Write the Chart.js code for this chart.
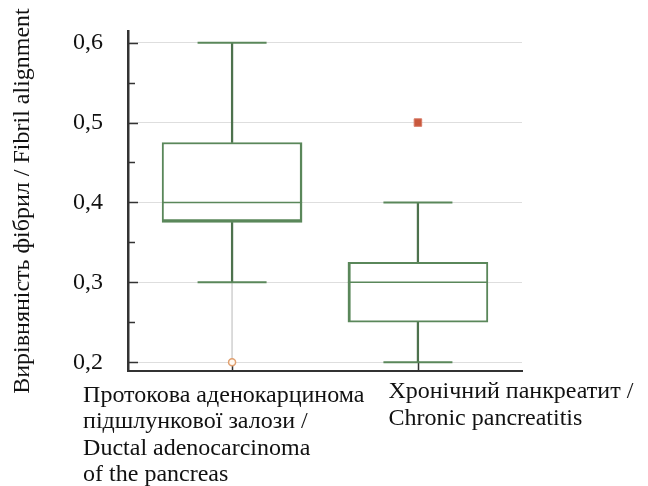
<!DOCTYPE html>
<html>
<head>
<meta charset="utf-8">
<script src="https://cdn.jsdelivr.net/npm/chart.js@4.4.1/dist/chart.umd.min.js"></script>
<style>
  body { margin: 0; background: #fff; }
  #wrap { width: 648px; height: 486px; }
</style>
</head>
<body>
<div id="wrap"><canvas id="chart" width="648" height="486"></canvas></div>
<script>
// Дані боксплоту
const categories = [
    ['Протокова аденокарцинома', 'підшлункової залози /', 'Ductal adenocarcinoma', 'of the pancreas'],
    ['Хронічний панкреатит /', 'Chronic pancreatitis']
];
const whiskerLow = [0.3, 0.2];
const q1 = [0.375, 0.25];
const median = [0.4, 0.3];
const q3 = [0.475, 0.325];
const whiskerHigh = [0.6, 0.4];
const outlierValues = [0.2, null];   // кружок
const extremeValues = [null, 0.5];   // квадрат
const yTickValues = [0.2, 0.3, 0.4, 0.5, 0.6];
const yMinorValues = [0.25, 0.35, 0.45, 0.55];

const green = '#5a875a';
const darkGreen = '#4d724d';
const serif = "'Liberation Serif', 'Times New Roman', serif";

const pos = i => i + 1;

// Внутрішні засічки на осях
const insideTicks = {
    id: 'insideTicks',
    beforeDatasetsDraw(chart) {
        const {ctx, chartArea, scales: {x, y}} = chart;
        ctx.save();
        ctx.strokeStyle = '#333';
        ctx.lineWidth = 1.5;
        ctx.beginPath();
        yTickValues.forEach(v => {
            const py = Math.round(y.getPixelForValue(v)) + 0.5;
            ctx.moveTo(chartArea.left, py);
            ctx.lineTo(chartArea.left + 10, py);
        });
        yMinorValues.forEach(v => {
            const py = Math.round(y.getPixelForValue(v)) + 0.5;
            ctx.moveTo(chartArea.left, py);
            ctx.lineTo(chartArea.left + 7, py);
        });
        categories.forEach((c, i) => {
            const px = Math.round(x.getPixelForValue(pos(i))) + 0.5;
            ctx.moveTo(px, chartArea.bottom);
            ctx.lineTo(px, chartArea.bottom - 10);
        });
        ctx.stroke();
        ctx.restore();
    }
};

// Підписи категорій (вирівняні по лівому краю)
const categoryLabels = {
    id: 'categoryLabels',
    afterDraw(chart, args, opts) {
        const {ctx, chartArea, scales: {x}} = chart;
        ctx.save();
        ctx.font = opts.size + 'px ' + serif;
        ctx.fillStyle = '#111';
        ctx.textAlign = 'left';
        ctx.textBaseline = 'alphabetic';
        categories.forEach((lines, i) => {
            const left = x.getPixelForValue(pos(i)) + opts.shift[i];
            lines.forEach((line, j) => {
                ctx.fillText(line, left, chartArea.bottom + opts.top[i] + j * opts.lineHeight);
            });
        });
        ctx.restore();
    }
};

new Chart(document.getElementById('chart'), {
    type: 'bar',
    data: {
        datasets: [
            {
                type: 'scatter',
                order: 0,
                data: outlierValues.map((v, i) => ({x: pos(i), y: v})).filter(p => p.y !== null),
                pointStyle: 'circle',
                pointRadius: 3.5,
                pointBackgroundColor: '#fff8f0',
                pointBorderColor: '#e0a070',
                pointBorderWidth: 1.5
            },
            {
                type: 'scatter',
                order: 0,
                data: extremeValues.map((v, i) => ({x: pos(i), y: v})).filter(p => p.y !== null),
                pointStyle: 'rect',
                pointRadius: 5.3,
                pointBackgroundColor: '#c8583c',
                pointBorderColor: '#d87a66',
                pointBorderWidth: 1
            },
            {
                type: 'scatter',
                order: 1,
                data: median.map((v, i) => ({x: pos(i), y: v})),
                pointStyle: 'line',
                pointRadius: 70,
                pointBorderColor: green,
                pointBorderWidth: 1.5
            },
            {
                type: 'scatter',
                order: 1,
                data: whiskerHigh.map((v, i) => ({x: pos(i), y: v}))
                    .concat(whiskerLow.map((v, i) => ({x: pos(i), y: v}))),
                pointStyle: 'line',
                pointRadius: 34.5,
                pointBorderColor: green,
                pointBorderWidth: 2
            },
            {
                order: 2,
                grouped: false,
                barThickness: 140,
                data: q1.map((v, i) => ({x: pos(i), y: [v, q3[i]]})),
                backgroundColor: 'rgba(255,255,255,1)',
                borderColor: green,
                borderSkipped: false,
                borderWidth: [
                    {top: 2, right: 2.5, bottom: 3.5, left: 2},
                    {top: 2, right: 2, bottom: 2, left: 3}
                ]
            },
            {
                order: 3,
                grouped: false,
                barThickness: 1.6,
                data: q3.map((v, i) => ({x: pos(i), y: [v, whiskerHigh[i]]}))
                    .concat(q1.map((v, i) => ({x: pos(i), y: [whiskerLow[i], v]}))),
                backgroundColor: darkGreen,
                borderWidth: 0
            },
            {
                type: 'line',
                order: 4,
                data: [{x: pos(0), y: whiskerLow[0]}, {x: pos(0), y: outlierValues[0]}],
                borderColor: '#d6d6d6',
                borderWidth: 1,
                pointRadius: 0
            }
        ]
    },
    options: {
        responsive: false,
        animation: false,
        layout: {autoPadding: false, padding: {top: 31, right: 126, left: 0, bottom: 0}},
        plugins: {
            legend: {display: false},
            tooltip: {enabled: false},
            categoryLabels: {
                size: 24,
                lineHeight: 26.5,
                shift: [-149, -29.5],
                top: [30.7, 27.3]
            }
        },
        scales: {
            x: {
                type: 'linear',
                offset: false,
                min: 0.44,
                max: 2.56,
                grid: {display: false},
                ticks: {display: false},
                border: {color: '#333', width: 2},
                afterFit(scale) { scale.height = 115; }
            },
            y: {
                min: 0.189,
                max: 0.6146,
                afterBuildTicks(scale) {
                    scale.ticks = yTickValues.map(v => ({value: v}));
                },
                afterFit(scale) {
                    scale.width = 128;
                    scale.paddingTop = 0;
                    scale.paddingBottom = 0;
                },
                grid: {color: '#dedede', lineWidth: 1, drawTicks: false},
                border: {color: '#333', width: 2.5},
                ticks: {
                    padding: 25,
                    color: '#111',
                    font: {family: serif, size: 24},
                    callback: v => v.toFixed(1).replace('.', ',')
                },
                title: {
                    display: true,
                    text: 'Вирівняність фібрил / Fibril alignment',
                    color: '#111',
                    font: {family: serif, size: 24},
                    padding: {top: 8, bottom: 0}
                }
            }
        }
    },
    plugins: [insideTicks, categoryLabels]
});
</script>
</body>
</html>
